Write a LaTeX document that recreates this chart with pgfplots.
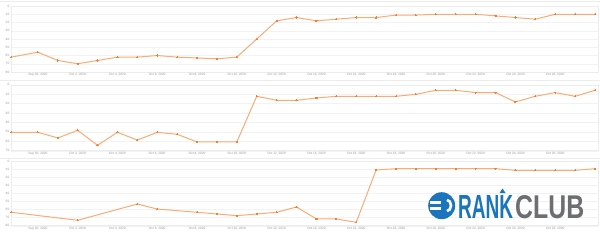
\documentclass[border=0pt]{standalone}
\usepackage{pgfplots}
\pgfplotsset{compat=1.18}
\usepackage{fontspec}
\setmainfont{Liberation Sans}
\usepackage{graphicx}
\definecolor{lineorange}{RGB}{248,172,118}
\definecolor{markorange}{RGB}{240,128,55}
\definecolor{logoblue}{RGB}{27,117,188}
\definecolor{logogray}{RGB}{109,110,113}
\pgfplotsset{panel/.style={
  scale only axis, width=587pt, anchor=north west,
  xmin=-1.35, xmax=28.15, y dir=reverse,
  axis line style={draw=gray!15, line width=0.4pt},
  ymajorgrids=true, major grid style={draw=gray!10, line width=0.3pt},
  tick style={draw=none},
  xtick={0,2,...,26},
  xticklabels={{Sep 30, 2020},{Oct 2, 2020},{Oct 4, 2020},{Oct 6, 2020},{Oct 8, 2020},{Oct 10, 2020},{Oct 12, 2020},{Oct 14, 2020},{Oct 16, 2020},{Oct 18, 2020},{Oct 20, 2020},{Oct 22, 2020},{Oct 24, 2020},{Oct 26, 2020}},
  ticklabel style={font=\fontsize{3.2}{4}\selectfont, text=gray!80},
  xticklabel style={inner sep=1pt},
  yticklabel style={inner sep=1.5pt},
  /pgf/number format/assume math mode=true,
}}
\tikzset{ser/.style={draw=lineorange, line width=1pt, mark=*, mark size=0.6pt, mark options={fill=markorange, draw=markorange, line width=0pt}}}
\begin{document}
\begin{tikzpicture}
\useasboundingbox (0,0) rectangle (600pt,-246pt);
\fill[white] (0,0) rectangle (600pt,-246pt);
\draw[gray!15, line width=0.4pt] (0,-1pt) -- (600pt,-1pt);
\draw[gray!15, line width=0.4pt] (0,-80pt) -- (600pt,-80pt);
\draw[gray!15, line width=0.4pt] (0,-158pt) -- (600pt,-158pt);
% Panel 1
\begin{axis}[panel, at={(11pt,-6pt)}, height=66pt, ymin=0, ymax=80, ytick={0,10,...,80}]
\addplot[ser] coordinates {(-1.35,62) (0,56) (1,66) (2,70) (3,66) (4,62) (5,62) (6,60) (7,62) (8,63) (9,64) (10,62) (11,40) (12,18) (13,14) (14,18) (15,16) (16,14) (17,14) (18,11) (19,11) (20,10) (21,10) (22,10) (23,12) (24,14) (25,16) (26,10) (27,10) (28,10)};
\end{axis}
% Panel 2
\begin{axis}[panel, at={(11pt,-84.7pt)}, height=66pt, ymin=0, ymax=70, ytick={0,10,...,70}]
\addplot[ser] coordinates {(-1.35,50.5) (0,50.5) (1,56.5) (2,48.4) (3,64.3) (4,50.5) (5,58.7) (6,50.5) (7,52.6) (8,60.7) (9,60.7) (10,60.7) (11,12.3) (12,16.5) (13,16.5) (14,14.1) (15,12.3) (16,12.3) (17,12.3) (18,12.3) (19,10.2) (20,5.9) (21,5.9) (22,8.4) (23,8.4) (24,18.3) (25,12.3) (26,8.4) (27,12.3) (28,5.9)};
\end{axis}
% Panel 3
\begin{axis}[panel, at={(11pt,-161pt)}, height=64.7pt, ymin=0, ymax=80, ytick={0,10,...,80}]
\addplot[ser] coordinates {(-1.35,63.4) (2,73.3) (5,53.2) (6,59.4) (8,63.4) (9,65.5) (10,67.6) (11,65.5) (12,63.4) (13,56.9) (14,71.7) (15,71.7) (16,75.8) (17,11.1) (18,9.5) (19,9.5) (20,9.5) (21,9.5) (22,9.5) (23,9.5) (24,11.5) (25,11.5) (26,11.5) (27,11.5) (28,9.5)};
\end{axis}
% Logo
\fill[logoblue] (441.7pt,-205.7pt) circle (13.5pt);
\fill[white] (430pt,-201pt) rectangle (441pt,-203.5pt);
\fill[white] (430pt,-207pt) rectangle (441pt,-209.5pt);
\draw[white, line width=2.6pt] (447pt,-200pt) arc (90:-90:4pt and 5.5pt);
\node[anchor=south west, inner sep=0pt] at (458pt,-219pt) {\resizebox{55pt}{23pt}{\color{logoblue}\bfseries RANK}};
\fill[logoblue] (502.5pt,-188.5pt) -- (499.5pt,-193pt) -- (505.5pt,-193pt) -- cycle;
\node[anchor=south west, inner sep=0pt] at (515pt,-219pt) {\resizebox{69pt}{23pt}{\color{logogray}\bfseries CLUB}};
\end{tikzpicture}
\end{document}
